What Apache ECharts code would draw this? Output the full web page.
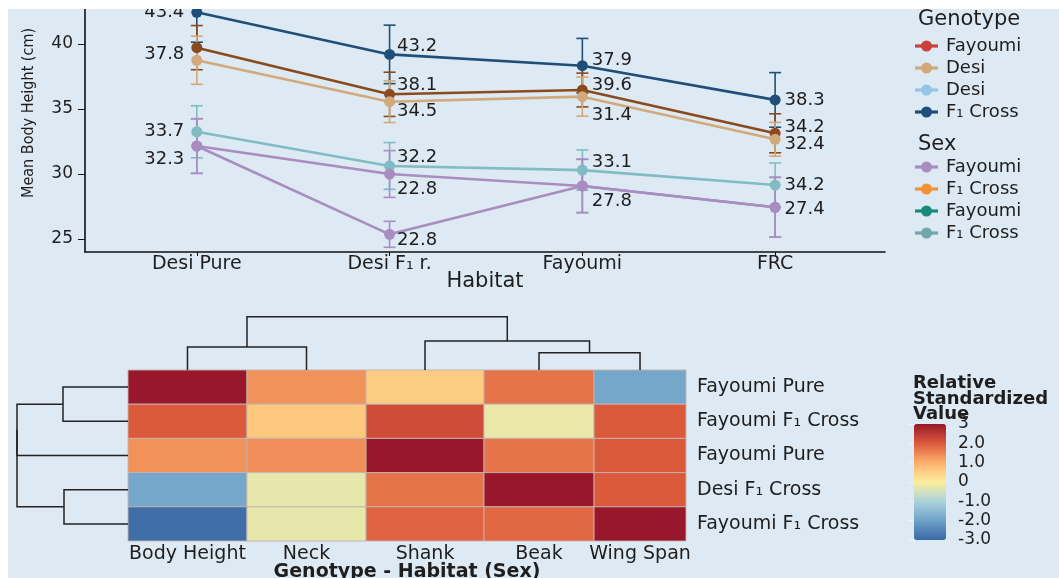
<!DOCTYPE html>
<html>
<head>
<meta charset="utf-8">
<script src="https://cdn.jsdelivr.net/npm/echarts@6/dist/echarts.min.js"></script>
<style>
html, body { margin: 0; padding: 0; background: #fff; }
#chart { width: 1059px; height: 578px; }
</style>
</head>
<body>
<div id="chart"></div>
<script>
// ---- line chart: mean body height by habitat ----
const habitats = ['Desi Pure', 'Desi F₁ r.', 'Fayoumi', 'FRC'];

const f1Mean = [42.44, 39.2, 38.33, 35.7];
const f1Err = [2.3, 2.25, 2.1, 2.1];
const f1Text = ['43.4', '43.2', '37.9', '38.3'];

const brownMean = [39.72, 36.13, 36.46, 33.13];
const brownErr = [1.7, 1.7, 1.3, 1.5];
const brownText = [null, '38.1', '39.6', '34.2'];

const tanMean = [38.75, 35.56, 35.95, 32.67];
const tanErr = [1.85, 1.6, 1.5, 1.3];
const tanText = ['37.8', '34.5', '31.4', '32.4'];

const tealMean = [33.25, 30.62, 30.3, 29.15];
const tealErr = [2.0, 1.8, 1.55, 1.7];
const tealText = ['33.7', '32.2', '33.1', '34.2'];

const purpleMean = [32.15, 30.0, 29.08, 27.44];
const purpleErr = [2.1, 1.8, 2.05, 2.3];
const purpleText = ['32.3', '22.8', '27.8', '27.4'];

const lilacMean = [32.15, 25.36, 29.08, 27.44];
const lilacErr = [2.1, 1.0, 2.05, 2.3];
const lilacText = [null, '22.8', null, null];

const yTicks = [25, 30, 35, 40];

// legend entries
const genotypeLabels = ['Fayoumi', 'Desi', 'Desi', 'F₁ Cross'];
const sexLabels = ['Fayoumi', 'F₁ Cross', 'Fayoumi', 'F₁ Cross'];

// ---- heatmap ----
const traits = ['Body Height', 'Neck', 'Shank', 'Beak', 'Wing Span'];
const groups = ['Fayoumi Pure', 'Fayoumi F₁ Cross', 'Fayoumi Pure', 'Desi F₁ Cross', 'Fayoumi F₁ Cross'];
const heatValues = [
    [3.0, 1.35, 0.55, 1.7, -1.9],
    [2.0, 0.6, 2.2, -0.2, 2.0],
    [1.35, 1.4, 3.0, 1.7, 2.0],
    [-1.9, -0.25, 1.7, 3.0, 2.0],
    [-2.9, -0.25, 1.9, 1.85, 3.0]
];
// linkage rows: [a, b, height], new clusters numbered from n upwards
const traitLinkage = [[0, 1, 2.3], [3, 4, 1.73], [2, 6, 2.9], [5, 7, 5.33]];
const groupLinkage = [[0, 1, 6.5], [3, 4, 6.4], [5, 2, 11.1], [7, 6, 11.1]];

const scaleTicks = [-3, -2, -1, 0, 1, 2, 3];
const scaleTickLabels = ['-3.0', '-2.0', '-1.0', '0', '1.0', '2.0', '3'];

// ---- layout / style ----
const FONT = '"DejaVu Sans", sans-serif';
const INK = '#1e1e1e';
const labelSide = ['left', 'right', 'right', 'right'];
const labelGap = [7, 2, 4, 4];
const colEdges = [0, 1.066, 2.133, 3.19, 4.176, 5];
const colCenters = traits.map((t, i) => (colEdges[i] + colEdges[i + 1]) / 2);
const rowCenters = groups.map((g, i) => i + 0.5);

const lines = [
    { name: 'F1 Cross', mean: f1Mean, err: f1Err, text: f1Text, color: '#1f4e79', dy: [0, -8, -5, 0] },
    { name: 'Fayoumi', mean: brownMean, err: brownErr, text: brownText, color: '#8b4a1d', dy: [0, -9, -5, -6] },
    { name: 'Desi', mean: tanMean, err: tanErr, text: tanText, color: '#d2a97a', dy: [-6, 10, 19, 5] },
    { name: 'Desi F1', mean: tealMean, err: tealErr, text: tealText, color: '#82bcc3', dy: [0, -9, -8, 0] },
    { name: 'Fayoumi (sex)', mean: purpleMean, err: purpleErr, text: purpleText, color: '#a98cc0', dy: [13, 15, 15, 2] },
    { name: 'F1 Cross (sex)', mean: lilacMean, err: lilacErr, text: lilacText, color: '#a98cc0', dy: [0, 6, 0, 0] }
];
const genotypeColors = ['#c8413a', '#d2a97a', '#95c5e6', '#1f4e79'];
const sexColors = ['#a98cc0', '#f39234', '#1a8a7b', '#70a7aa'];
const ramp = ['#3a68a4', '#6ea2c8', '#acd3dc', '#fbee9c', '#fcb06c', '#dc5a3c', '#98172a'];

function renderErr(params, api) {
    const x = api.value(0);
    const lo = api.coord([x, api.value(1)]);
    const hi = api.coord([x, api.value(2)]);
    const w = 6;
    const style = { stroke: api.visual('color'), lineWidth: 1.6 };
    return {
        type: 'group',
        children: [
            { type: 'line', shape: { x1: lo[0], y1: lo[1], x2: hi[0], y2: hi[1] }, style: style },
            { type: 'line', shape: { x1: lo[0] - w, y1: lo[1], x2: lo[0] + w, y2: lo[1] }, style: style },
            { type: 'line', shape: { x1: hi[0] - w, y1: hi[1], x2: hi[0] + w, y2: hi[1] }, style: style }
        ]
    };
}

function renderCell(params, api) {
    const c = api.value(0), r = api.value(1);
    const p0 = api.coord([colEdges[c], r]);
    const p1 = api.coord([colEdges[c + 1], r + 1]);
    return {
        type: 'rect',
        shape: { x: p0[0], y: p0[1], width: p1[0] - p0[0], height: p1[1] - p0[1] },
        style: { fill: api.visual('color'), stroke: 'rgba(196,180,176,0.9)', lineWidth: 1 }
    };
}

// turn a linkage into U-shaped links: [posA, hA, posB, hB, h]
function dendroLinks(linkage, leafPos) {
    const pos = leafPos.slice();
    const hgt = leafPos.map(() => 0);
    const out = [];
    linkage.forEach(([a, b, h]) => {
        out.push([pos[a], hgt[a], pos[b], hgt[b], h]);
        pos.push((pos[a] + pos[b]) / 2);
        hgt.push(h);
    });
    return out;
}

function dendroRenderer(horizontal) {
    return function (params, api) {
        const pt = (p, h) => horizontal ? api.coord([h, p]) : api.coord([p, h]);
        const pa = api.value(0), ha = api.value(1), pb = api.value(2), hb = api.value(3), h = api.value(4);
        return {
            type: 'polyline',
            shape: { points: [pt(pa, ha), pt(pa, h), pt(pb, h), pt(pb, hb)] },
            style: { stroke: '#222', lineWidth: 1.5, fill: null }
        };
    };
}

const series = [];
lines.forEach(l => {
    series.push({
        type: 'custom', name: l.name + ' err', xAxisIndex: 0, yAxisIndex: 0,
        renderItem: renderErr, itemStyle: { color: l.color }, silent: true, z: 2,
        data: l.mean.map((m, i) => [i, m - l.err[i], m + l.err[i]])
    });
    series.push({
        type: 'line', name: l.name, xAxisIndex: 0, yAxisIndex: 0,
        symbol: 'circle', symbolSize: 11, z: 3,
        lineStyle: { width: 2.6, color: l.color },
        itemStyle: { color: l.color },
        label: { fontFamily: FONT, fontSize: 18, color: INK },
        data: l.mean.map((m, i) => ({
            value: [i, m],
            label: {
                show: !!l.text[i], formatter: l.text[i] || '',
                position: labelSide[i], distance: labelGap[i], offset: [0, l.dy[i]]
            }
        }))
    });
});

const heatIndex = series.length;
const cells = [];
heatValues.forEach((row, r) => row.forEach((v, c) => cells.push([c, r, v])));
series.push({
    type: 'custom', name: 'heat', xAxisIndex: 1, yAxisIndex: 1,
    renderItem: renderCell, data: cells, encode: { x: 0, y: 1 }
});
series.push({
    type: 'custom', name: 'traitTree', xAxisIndex: 2, yAxisIndex: 2,
    renderItem: dendroRenderer(false), data: dendroLinks(traitLinkage, colCenters), silent: true
});
series.push({
    type: 'custom', name: 'groupTree', xAxisIndex: 3, yAxisIndex: 3,
    renderItem: dendroRenderer(true), data: dendroLinks(groupLinkage, rowCenters), silent: true
});

const nearest = (arr, v) => arr.reduce((best, c, i) => Math.abs(c - v) < Math.abs(arr[best] - v) ? i : best, 0);

// legend drawn as graphic
const legendEls = [];
function legendBlock(title, labels, colors, titleY, firstY) {
    legendEls.push({ type: 'text', x: 918, y: titleY, style: { text: title, font: '21px ' + FONT, fill: INK, verticalAlign: 'middle' } });
    labels.forEach((lab, i) => {
        const y = firstY + i * 22;
        legendEls.push({ type: 'line', shape: { x1: 915, y1: y, x2: 938, y2: y }, style: { stroke: colors[i], lineWidth: 3.2 } });
        legendEls.push({ type: 'circle', shape: { cx: 926.5, cy: y, r: 5.5 }, style: { fill: colors[i] } });
        legendEls.push({ type: 'text', x: 946, y: y, style: { text: lab, font: '18px ' + FONT, fill: INK, verticalAlign: 'middle' } });
    });
}
legendBlock('Genotype', genotypeLabels, genotypeColors, 20, 46);
legendBlock('Sex', sexLabels, sexColors, 145, 167);

const hidden = { show: false };

const option = {
    animation: false,
    backgroundColor: '#dde9f3',
    textStyle: { fontFamily: FONT },
    grid: [
        { left: 85, width: 800, top: 0, height: 252, outerBoundsMode: 'none' },
        { left: 128, width: 558, top: 370, height: 171, outerBoundsMode: 'none' },
        { left: 128, width: 558, top: 300, height: 70, outerBoundsMode: 'none' },
        { left: 8, width: 120, top: 370, height: 171, outerBoundsMode: 'none' },
        { left: 914, width: 32, top: 424, height: 116, outerBoundsMode: 'none' }
    ],
    xAxis: [
        {
            gridIndex: 0, type: 'value', min: -0.58, max: 3.57,
            axisLine: { onZero: false, lineStyle: { color: '#111', width: 1.6 } },
            axisTick: { customValues: [0, 1, 2, 3], length: 4, lineStyle: { color: '#111' } },
            axisLabel: {
                customValues: [0, 1, 2, 3], formatter: v => habitats[Math.round(v)],
                fontSize: 19, color: INK, margin: 3, fontFamily: FONT
            },
            splitLine: hidden,
            name: 'Habitat', nameLocation: 'middle', nameGap: 19, nameMoveOverlap: false,
            nameTextStyle: { fontSize: 21, color: INK, fontFamily: FONT }
        },
        {
            gridIndex: 1, type: 'value', min: 0, max: 5,
            axisLine: hidden, axisTick: hidden, splitLine: hidden,
            axisLabel: {
                customValues: colCenters, formatter: v => traits[nearest(colCenters, v)],
                fontSize: 19, color: INK, margin: 4, fontFamily: FONT
            },
            name: 'Genotype - Habitat (Sex)', nameLocation: 'middle', nameGap: 22, nameMoveOverlap: false,
            nameTextStyle: { fontSize: 19, fontWeight: 'bold', color: INK, fontFamily: FONT }
        },
        { gridIndex: 2, type: 'value', min: 0, max: 5, show: false },
        { gridIndex: 3, type: 'value', min: 0, max: 12, inverse: true, show: false },
        { gridIndex: 4, type: 'value', min: 0, max: 1, show: false }
    ],
    yAxis: [
        {
            gridIndex: 0, type: 'value', min: 24, max: 43.385,
            axisLine: { show: true, onZero: false, lineStyle: { color: '#111', width: 1.6 } },
            axisTick: { show: true, customValues: yTicks, length: 7, lineStyle: { color: '#111' } },
            axisLabel: { customValues: yTicks, fontSize: 17, color: INK, margin: 12, fontFamily: FONT },
            splitLine: hidden
        },
        {
            gridIndex: 1, type: 'value', min: 0, max: 5, inverse: true, position: 'right',
            axisLine: hidden, axisTick: hidden, splitLine: hidden,
            axisLabel: {
                customValues: rowCenters, formatter: v => groups[nearest(rowCenters, v)],
                fontSize: 19, color: INK, margin: 11, fontFamily: FONT
            }
        },
        { gridIndex: 2, type: 'value', min: 0, max: 7, show: false },
        { gridIndex: 3, type: 'value', min: 0, max: 5, inverse: true, show: false },
        {
            gridIndex: 4, type: 'value', min: -3, max: 3, position: 'right',
            axisLine: hidden, splitLine: hidden,
            axisTick: { show: true, inside: true, customValues: scaleTicks, length: 6, lineStyle: { color: 'rgba(255,255,255,0.45)' } },
            axisLabel: {
                customValues: scaleTicks, formatter: v => scaleTickLabels[nearest(scaleTicks, v)],
                fontSize: 17, color: INK, margin: 12, fontFamily: FONT
            }
        }
    ],
    visualMap: {
        type: 'continuous', seriesIndex: heatIndex, dimension: 2,
        min: -3, max: 3, calculable: false, text: null, padding: 0,
        left: 914, top: 424, itemWidth: 32, itemHeight: 116,
        inRange: { color: ramp }
    },
    graphic: {
        elements: legendEls.concat([
            {
                type: 'text', x: 29, y: 113, rotation: Math.PI / 2,
                style: { text: 'Mean Body Height (cm)', font: '16px "Liberation Sans Narrow", "DejaVu Sans Condensed", sans-serif', fill: INK, align: 'center', verticalAlign: 'middle' }
            },
            {
                type: 'text', x: 913, y: 376,
                style: { text: 'Relative\nStandardized\nValue', font: 'bold 18px ' + FONT, fill: INK, lineHeight: 15.5 }
            },
            { type: 'rect', z: 100, shape: { x: 0, y: 0, width: 1059, height: 9 }, style: { fill: '#fff' } },
            { type: 'rect', z: 100, shape: { x: 0, y: 0, width: 8, height: 578 }, style: { fill: '#fff' } }
        ])
    },
    series: series
};

const myChart = echarts.init(document.getElementById('chart'));
myChart.setOption(option);
</script>
</body>
</html>
